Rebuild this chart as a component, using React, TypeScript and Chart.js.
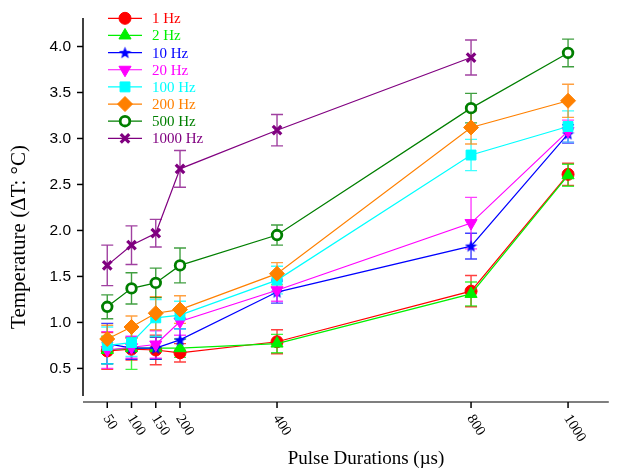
import React, { useEffect, useRef } from 'react';
import { Chart, registerables } from 'chart.js';
import { drawPoint } from 'chart.js/helpers';

Chart.register(...registerables);

// ---------- data ----------
const pulseDurations = [50, 100, 150, 200, 400, 800, 1000];
const xTickValues = [50, 100, 150, 200, 400, 800, 1000];
const yTickValues = [0.5, 1.0, 1.5, 2.0, 2.5, 3.0, 3.5, 4.0];
const seriesNames = ['1 Hz', '2 Hz', '10 Hz', '20 Hz', '100 Hz', '200 Hz', '500 Hz', '1000 Hz'];

const hz1 = [0.69, 0.71, 0.70, 0.67, 0.79, 1.34, 2.61];
const hz1Err = [0.2, 0.12, 0.16, 0.1, 0.13, 0.17, 0.12];
const hz2 = [0.70, 0.72, 0.72, 0.72, 0.77, 1.31, 2.60];
const hz2Err = [0.15, 0.23, 0.12, 0.1, 0.1, 0.13, 0.12];
const hz10 = [0.77, 0.72, 0.72, 0.81, 1.33, 1.83, 3.05];
const hz10Err = [0.22, 0.12, 0.12, 0.12, 0.12, 0.14, 0.1];
const hz20 = [0.70, 0.73, 0.76, 1.01, 1.35, 2.08, 3.08];
const hz20Err = [0.2, 0.12, 0.15, 0.15, 0.12, 0.28, 0.12];
const hz100 = [0.75, 0.78, 1.05, 1.08, 1.46, 2.82, 3.13];
const hz100Err = [0.2, 0.15, 0.2, 0.15, 0.15, 0.17, 0.17];
const hz200 = [0.82, 0.95, 1.10, 1.14, 1.53, 3.12, 3.41];
const hz200Err = [0.15, 0.12, 0.18, 0.15, 0.12, 0.18, 0.18];
const hz500 = [1.17, 1.37, 1.43, 1.62, 1.95, 3.33, 3.93];
const hz500Err = [0.13, 0.17, 0.16, 0.19, 0.11, 0.16, 0.15];
const hz1000 = [1.62, 1.84, 1.97, 2.67, 3.09, 3.88];
const hz1000Err = [0.22, 0.21, 0.15, 0.2, 0.17, 0.19];

const seriesValues = [hz1, hz2, hz10, hz20, hz100, hz200, hz500, hz1000];
const seriesErrors = [hz1Err, hz2Err, hz10Err, hz20Err, hz100Err, hz200Err, hz500Err, hz1000Err];
const seriesColors = ['#FF0000', '#00F000', '#0000FF', '#FF00FF', '#00FFFF', '#FF8000', '#007F00', '#800080'];

function makeStar(color: string, size: number) {
  const c = document.createElement('canvas');
  c.width = size;
  c.height = size;
  const g = c.getContext('2d')!;
  const cx = size / 2, cy = size / 2 + 0.5;
  const R = size / 2, r = R * 0.42;
  g.beginPath();
  for (let i = 0; i < 10; i++) {
    const rad = i % 2 === 0 ? R : r;
    const a = -Math.PI / 2 + (i * Math.PI) / 5;
    const px = cx + rad * Math.cos(a);
    const py = cy + rad * Math.sin(a);
    if (i === 0) g.moveTo(px, py);
    else g.lineTo(px, py);
  }
  g.closePath();
  g.fillStyle = color;
  g.fill();
  return c;
}

export default function App() {
  const ref = useRef<HTMLCanvasElement | null>(null);

  useEffect(() => {
    const canvas = ref.current!;
    const star = makeStar('#0000FF', 13);

    const styles: any[] = [
      { pointStyle: 'circle', radius: 6, rotation: 0, bg: seriesColors[0], bw: 1 },
      { pointStyle: 'triangle', radius: 7, rotation: 0, bg: seriesColors[1], bw: 1 },
      { pointStyle: star, radius: 6, rotation: 0, bg: seriesColors[2], bw: 1 },
      { pointStyle: 'triangle', radius: 7, rotation: 180, bg: seriesColors[3], bw: 1 },
      { pointStyle: 'rect', radius: 7, rotation: 0, bg: seriesColors[4], bw: 1 },
      { pointStyle: 'rectRot', radius: 7.5, rotation: 0, bg: seriesColors[5], bw: 1 },
      { pointStyle: 'circle', radius: 4.8, rotation: 0, bg: '#FFFFFF', bw: 2.8 },
      { pointStyle: 'crossRot', radius: 6, rotation: 0, bg: seriesColors[7], bw: 3.2 },
    ];

    const datasets = seriesNames.map((name, i) => ({
      label: name,
      data: seriesValues[i].map((v, j) => ({ x: pulseDurations[j], y: v })),
      borderColor: seriesColors[i],
      backgroundColor: seriesColors[i],
      borderWidth: 1.2,
      pointStyle: styles[i].pointStyle,
      pointRadius: styles[i].radius,
      pointRotation: styles[i].rotation,
      pointBackgroundColor: styles[i].bg,
      pointBorderColor: seriesColors[i],
      pointBorderWidth: styles[i].bw,
      tension: 0,
      fill: false,
      order: 10 - i,
    }));

    const errorBars = {
      id: 'errorBars',
      beforeDatasetsDraw(chart: any) {
        const ctx = chart.ctx;
        const xs = chart.scales.x;
        const ys = chart.scales.y;
        ctx.save();
        seriesValues.forEach((vals, i) => {
          ctx.strokeStyle = seriesColors[i];
          ctx.globalAlpha = 0.75;
          ctx.lineWidth = 1.4;
          vals.forEach((v, j) => {
            const e = seriesErrors[i][j];
            const px = xs.getPixelForValue(pulseDurations[j]);
            const top = ys.getPixelForValue(v + e);
            const bot = ys.getPixelForValue(v - e);
            ctx.beginPath();
            ctx.moveTo(px, top);
            ctx.lineTo(px, bot);
            ctx.moveTo(px - 6, top);
            ctx.lineTo(px + 6, top);
            ctx.moveTo(px - 6, bot);
            ctx.lineTo(px + 6, bot);
            ctx.stroke();
          });
        });
        ctx.restore();
      },
    };

    const decorations = {
      id: 'decorations',
      afterDraw(chart: any) {
        const ctx = chart.ctx;
        const xs = chart.scales.x;
        const ys = chart.scales.y;
        const area = chart.chartArea;
        ctx.save();
        // y axis
        ctx.strokeStyle = '#000';
        ctx.lineWidth = 1.5;
        ctx.beginPath();
        ctx.moveTo(area.left, area.top);
        ctx.lineTo(area.left, area.bottom);
        ctx.stroke();
        ctx.font = '15.5px "Liberation Sans", Arial, sans-serif';
        ctx.fillStyle = '#000';
        ctx.textAlign = 'right';
        ctx.textBaseline = 'middle';
        yTickValues.forEach((t) => {
          const py = ys.getPixelForValue(t);
          ctx.beginPath();
          ctx.moveTo(area.left - 6, py);
          ctx.lineTo(area.left, py);
          ctx.stroke();
          ctx.fillText(t.toFixed(1), area.left - 12, py);
        });
        // x axis
        const axisY = area.bottom + 6;
        ctx.strokeStyle = '#555';
        ctx.beginPath();
        ctx.moveTo(area.left, axisY);
        ctx.lineTo(area.right, axisY);
        ctx.stroke();
        ctx.strokeStyle = '#000';
        ctx.font = '14.5px "Liberation Serif", "Times New Roman", serif';
        ctx.textAlign = 'left';
        ctx.textBaseline = 'middle';
        xTickValues.forEach((t) => {
          const px = xs.getPixelForValue(t);
          ctx.beginPath();
          ctx.moveTo(px, axisY);
          ctx.lineTo(px, axisY + 6);
          ctx.stroke();
          ctx.save();
          ctx.translate(px - 1, axisY + 14);
          ctx.rotate((58 * Math.PI) / 180);
          ctx.fillText(String(t), 0, 0);
          ctx.restore();
        });
        // titles
        ctx.font = '19px "Liberation Serif", "Times New Roman", serif';
        ctx.textAlign = 'center';
        ctx.textBaseline = 'middle';
        ctx.fillText('Pulse Durations (µs)', 366, 459);
        ctx.save();
        ctx.translate(19, 237);
        ctx.rotate(-Math.PI / 2);
        ctx.font = '21px "Liberation Serif", "Times New Roman", serif';
        ctx.fillText('Temperature (ΔT: °C)', 0, 0);
        ctx.restore();
        // legend
        ctx.font = '15px "Liberation Serif", "Times New Roman", serif';
        ctx.textAlign = 'left';
        seriesNames.forEach((name, i) => {
          const ly = 18.3 + i * 17.15;
          ctx.strokeStyle = seriesColors[i];
          ctx.lineWidth = 1.2;
          ctx.beginPath();
          ctx.moveTo(108, ly);
          ctx.lineTo(142, ly);
          ctx.stroke();
          ctx.fillStyle = styles[i].bg;
          ctx.strokeStyle = seriesColors[i];
          ctx.lineWidth = styles[i].bw;
          drawPoint(ctx, { pointStyle: styles[i].pointStyle, rotation: styles[i].rotation, radius: styles[i].radius, borderWidth: styles[i].bw } as any, 125, ly);
          ctx.fillStyle = seriesColors[i];
          ctx.fillText(name, 152, ly + 1);
        });
        ctx.restore();
      },
    };

    const chart = new Chart(canvas, {
      type: 'line',
      data: { datasets } as any,
      options: {
        animation: false,
        responsive: false,
        maintainAspectRatio: false,
        layout: { padding: { left: 83, top: 18, right: 5, bottom: 75 } },
        plugins: { legend: { display: false }, tooltip: { enabled: false } },
        scales: {
          x: { type: 'linear', min: 0, max: 1084, display: false },
          y: { type: 'linear', min: 0.2, max: 4.31, display: false },
        },
      },
      plugins: [errorBars, decorations],
    });
    return () => chart.destroy();
  }, []);

  return (
    <div style={{ position: 'fixed', left: 0, top: 0, width: 618, height: 471, background: '#fff' }}>
      <canvas ref={ref} width={618} height={471} style={{ width: 618, height: 471 }} />
    </div>
  );
}
